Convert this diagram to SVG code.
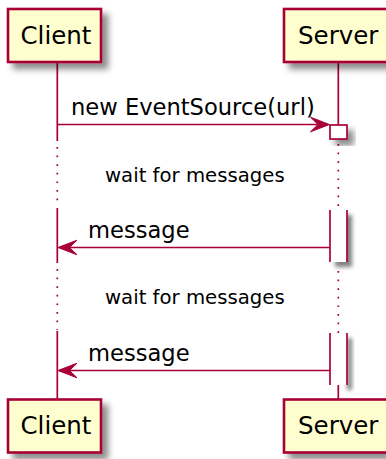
<svg xmlns="http://www.w3.org/2000/svg" width="386" height="459" viewBox="0 0 386 459">
<defs>
<filter id="sh" x="-50%" y="-50%" width="200%" height="200%">
<feGaussianBlur in="SourceAlpha" stdDeviation="3"/>
<feColorMatrix type="matrix" values="0 0 0 0 0  0 0 0 0 0  0 0 0 0 0  0 0 0 0.45 0"/>
<feOffset dx="6" dy="6" result="s"/>
<feMerge><feMergeNode in="s"/><feMergeNode in="SourceGraphic"/></feMerge>
</filter>
<filter id="shr" x="-50%" y="-20%" width="300%" height="140%">
<feGaussianBlur in="SourceAlpha" stdDeviation="2"/>
<feColorMatrix type="matrix" values="0 0 0 0 0  0 0 0 0 0  0 0 0 0 0  0 0 0 0.5 0"/>
<feOffset dx="5" dy="5"/>
</filter>
</defs>
<style>
.box{fill:#FEFECE;stroke:#A80036;stroke-width:2.6}
.ptxt{font-family:"DejaVu Sans",sans-serif;font-size:24.5px;fill:#000}
.mtxt{font-family:"DejaVu Sans",sans-serif;font-size:22.6px;fill:#000}
.dtxt{font-family:"DejaVu Sans",sans-serif;font-size:19.7px;fill:#000}
.life{stroke:#A80036;stroke-width:1.7;fill:none}
.dot{stroke:#A80036;stroke-width:1.7;fill:none;stroke-dasharray:1.7,6.9}
.msg{stroke:#A80036;stroke-width:1.7;fill:none}
.head{fill:#A80036;stroke:#A80036;stroke-width:1}
.act{fill:#FFFFFF;stroke:#A80036;stroke-width:1.7}
</style>
<g id="lifelines">
<line class="life" x1="57.3" y1="62" x2="57.3" y2="141"/>
<line class="dot" x1="57.3" y1="147" x2="57.3" y2="207"/>
<line class="life" x1="57.3" y1="208" x2="57.3" y2="263"/>
<line class="dot" x1="57.3" y1="269" x2="57.3" y2="330"/>
<line class="life" x1="57.3" y1="331" x2="57.3" y2="400"/>
<line class="life" x1="338.3" y1="62" x2="338.3" y2="125"/>
<line class="dot" x1="338.3" y1="144" x2="338.3" y2="212"/>
<line class="dot" x1="338.3" y1="271" x2="338.3" y2="336"/>
<line class="life" x1="338.3" y1="385" x2="338.3" y2="400"/>
</g>
<g id="act1">
<rect class="act" x="330" y="125" width="17" height="14" filter="url(#sh)"/>
</g>
<g id="act2">
<rect x="330" y="210" width="17" height="52" fill="#000" filter="url(#shr)"/>
<rect x="330" y="210" width="17" height="52" fill="#FFFFFF"/>
<line class="life" x1="330" y1="210" x2="330" y2="262"/>
<line class="life" x1="347" y1="210" x2="347" y2="262"/>
</g>
<g id="act3">
<rect x="342" y="333" width="5" height="52" fill="#000" filter="url(#shr)"/>
<rect x="330" y="333" width="17" height="52" fill="#FFFFFF"/>
<line class="life" x1="330" y1="333" x2="330" y2="385"/>
<line class="life" x1="347" y1="333" x2="347" y2="385"/>
</g>
<g id="connectors">
<line class="msg" x1="57.3" y1="124.5" x2="325" y2="124.5"/>
<polygon class="head" points="329.5,124.5 310.5,117.2 318,124.5 310.5,131.8"/>
<line class="msg" x1="62" y1="247.5" x2="330" y2="247.5"/>
<polygon class="head" points="58,247.5 77,240.2 69.5,247.5 77,254.8"/>
<line class="msg" x1="62" y1="370.5" x2="330" y2="370.5"/>
<polygon class="head" points="58,370.5 77,363.2 69.5,370.5 77,377.8"/>
</g>
<g id="labels">
<text class="mtxt" x="71" y="115">new EventSource(url)</text>
<text class="mtxt" x="88" y="238">message</text>
<text class="mtxt" x="88" y="361">message</text>
<text class="dtxt" x="105" y="182">wait for messages</text>
<text class="dtxt" x="105" y="304">wait for messages</text>
</g>
<g id="client-top">
<rect class="box" x="8" y="9" width="93" height="53" filter="url(#sh)"/>
<text class="ptxt" x="20.5" y="43.5">Client</text>
</g>
<g id="server-top">
<rect class="box" x="284" y="9" width="109" height="53" filter="url(#sh)"/>
<text class="ptxt" x="298" y="43.5">Server</text>
</g>
<g id="client-bottom">
<rect class="box" x="8" y="399.5" width="93" height="53" filter="url(#sh)"/>
<text class="ptxt" x="20.5" y="434">Client</text>
</g>
<g id="server-bottom">
<rect class="box" x="284" y="399.5" width="109" height="53" filter="url(#sh)"/>
<text class="ptxt" x="298" y="434">Server</text>
</g>
</svg>
